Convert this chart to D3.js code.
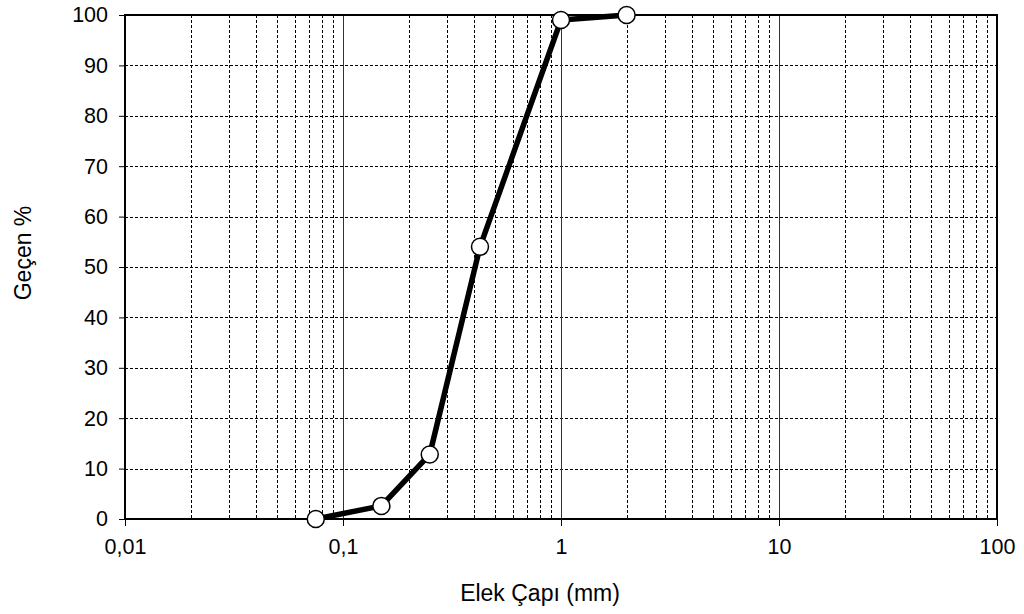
<!DOCTYPE html>
<html><head><meta charset="utf-8">
<script src="https://cdn.jsdelivr.net/npm/d3@7"></script>
<style>body{margin:0;background:#fff}svg{display:block}text{font-family:"Liberation Sans",Arial,sans-serif;fill:#000}</style>
</head><body>
<script>
const sieveSizes = [0.075, 0.15, 0.25, 0.425, 1, 2];
const passing = [0, 2.6, 12.8, 54, 99, 100];
const xTicks = [0.01, 0.1, 1, 10, 100];
const xTickLabels = ["0,01", "0,1", "1", "10", "100"];
const yTicks = [0,10,20,30,40,50,60,70,80,90,100];

const W=1024,H=614, L=125,R=997,T=15,B=519;
const svg=d3.select("body").append("svg").attr("width",W).attr("height",H);
const x=d3.scaleLog().domain([0.01,100]).range([L,R]);
const y=d3.scaleLinear().domain([0,100]).range([B,T]);

// minor vertical grid
const minors=[];
for(let d=0.01; d<100; d*=10){ for(let k=2;k<=9;k++) minors.push(+(d*k).toPrecision(3)); }
svg.append("g").selectAll("line").data(minors).join("line")
 .attr("x1",d=>Math.round(x(d))+0.5).attr("x2",d=>Math.round(x(d))+0.5).attr("y1",T).attr("y2",B)
 .attr("stroke","#000").attr("stroke-width",1).attr("stroke-dasharray","3,2");
// horizontal grid
svg.append("g").selectAll("line").data(yTicks.slice(1,-1)).join("line")
 .attr("x1",L).attr("x2",R).attr("y1",d=>Math.round(y(d))+0.5).attr("y2",d=>Math.round(y(d))+0.5)
 .attr("stroke","#000").attr("stroke-width",1).attr("stroke-dasharray","3,2");
// major vertical grid
svg.append("g").selectAll("line").data(xTicks.slice(1,-1)).join("line")
 .attr("x1",d=>Math.round(x(d))+0.5).attr("x2",d=>Math.round(x(d))+0.5).attr("y1",T).attr("y2",B+7)
 .attr("stroke","#333").attr("stroke-width",1);

// axes
const ya=svg.append("g").attr("transform",`translate(${L},0)`)
 .call(d3.axisLeft(y).tickValues(yTicks).tickSize(6).tickPadding(11));
ya.select(".domain").remove();
ya.selectAll("text").style("font-size","21.5px");
const xa=svg.append("g").attr("transform",`translate(0,${B})`)
 .call(d3.axisBottom(x).tickValues(xTicks).tickFormat((d,i)=>xTickLabels[i]).tickSize(7).tickPadding(13));
xa.select(".domain").remove();
xa.selectAll("text").style("font-size","21.5px");

// frame
svg.append("rect").attr("x",L).attr("y",T).attr("width",R-L).attr("height",B-T)
 .attr("fill","none").attr("stroke","#000").attr("stroke-width",2);

// line
const pts=sieveSizes.map((s,i)=>[s,passing[i]]);
svg.append("path").datum(pts).attr("fill","none").attr("stroke","#000").attr("stroke-width",5.5)
 .attr("stroke-linejoin","round")
 .attr("d",d3.line().x(d=>x(d[0])).y(d=>y(d[1])));
svg.append("g").selectAll("circle").data(pts).join("circle")
 .attr("cx",d=>x(d[0])).attr("cy",d=>y(d[1])).attr("r",8.5)
 .attr("fill","#fff").attr("stroke","#000").attr("stroke-width",1.5);

// labels
svg.append("text").attr("x",540).attr("y",601).attr("text-anchor","middle").style("font-size","23px").text("Elek Çapı (mm)");
svg.append("text").attr("transform","translate(31,253) rotate(-90)").attr("text-anchor","middle").style("font-size","23px").text("Geçen %");
</script>
</body></html>
